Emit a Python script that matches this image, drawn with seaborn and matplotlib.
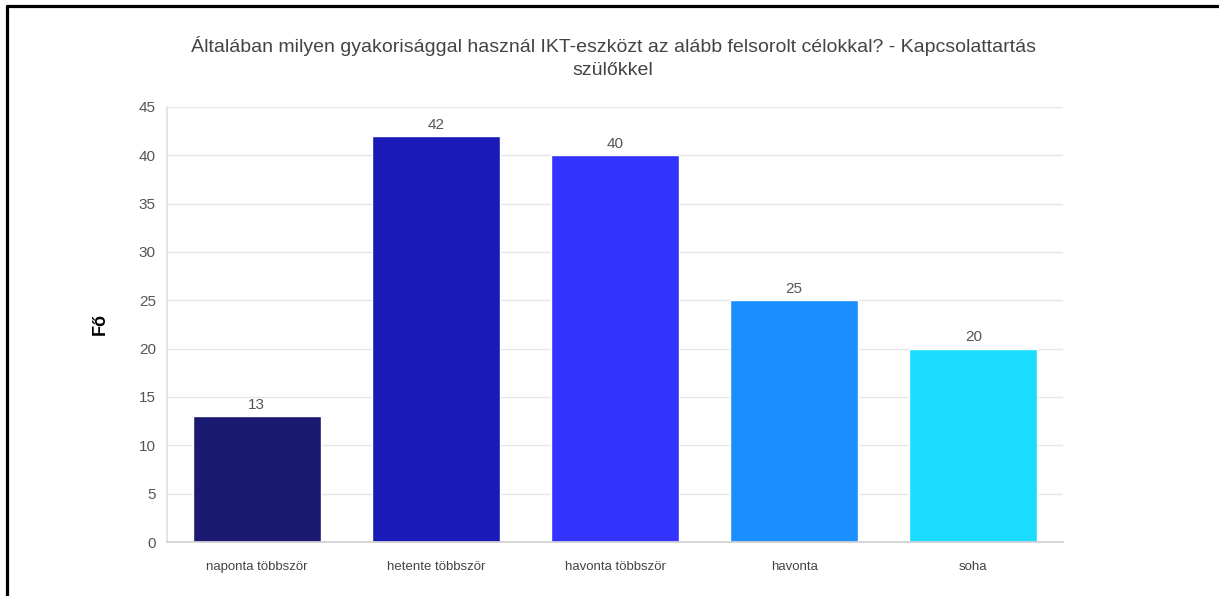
import matplotlib
matplotlib.use("Agg")
import matplotlib.pyplot as plt
import matplotlib.lines as mlines
import pandas as pd
import seaborn as sns

# Data
categories = ["naponta többször", "hetente többször", "havonta többször", "havonta", "soha"]
values = [13, 42, 40, 25, 20]
bar_colors = ["#1a1a73", "#1a1ab8", "#3333ff", "#1a8fff", "#1adcff"]

title = ("Általában milyen gyakorisággal használ IKT-eszközt az alább felsorolt célokkal? - Kapcsolattartás\n"
         "szülőkkel")

df = pd.DataFrame({"kategoria": categories, "fo": values})

sns.set_theme(style="white")
plt.rcParams["font.family"] = ["Liberation Sans", "DejaVu Sans"]

fig = plt.figure(figsize=(12.19, 5.96), dpi=100)
ax = fig.add_axes([0.137, 0.0906, 0.735, 0.7299])

sns.barplot(data=df, x="kategoria", y="fo", hue="kategoria", palette=bar_colors,
            legend=False, width=0.715, saturation=1, ax=ax)

# Value labels above bars
for container in ax.containers:
    ax.bar_label(container, padding=3, fontsize=11, color="#555555")

ax.set_ylim(0, 45)
ax.set_xlim(-0.5, 4.5)
ax.set_yticks(range(0, 46, 5))
ax.yaxis.grid(True, color="#e6e6e6", linewidth=1)
ax.set_axisbelow(True)

for side in ["top", "right"]:
    ax.spines[side].set_visible(False)
ax.spines["left"].set_color("#e0e0e0")
ax.spines["bottom"].set_color("#d0d0d0")

ax.tick_params(axis="y", colors="#555555", labelsize=11, length=6, color="#e0e0e0", pad=2)
ax.tick_params(axis="x", colors="#444444", labelsize=9.5, length=0, pad=14)
ax.set_xlabel("")
ax.set_ylabel("Fő", fontsize=13, fontweight="bold", color="black", labelpad=22)

fig.suptitle(title, x=0.503, y=0.94, fontsize=14, color="#444444", linespacing=1.5)

# Black frame lines (top and left) as in the screenshot
fig.add_artist(mlines.Line2D([7 / 1219, 1], [1 - 6 / 596, 1 - 6 / 596],
                             transform=fig.transFigure, color="black", linewidth=2.3))
fig.add_artist(mlines.Line2D([7 / 1219, 7 / 1219], [0, 1 - 6 / 596],
                             transform=fig.transFigure, color="black", linewidth=2.3))

fig.savefig("out.png", dpi=100)
